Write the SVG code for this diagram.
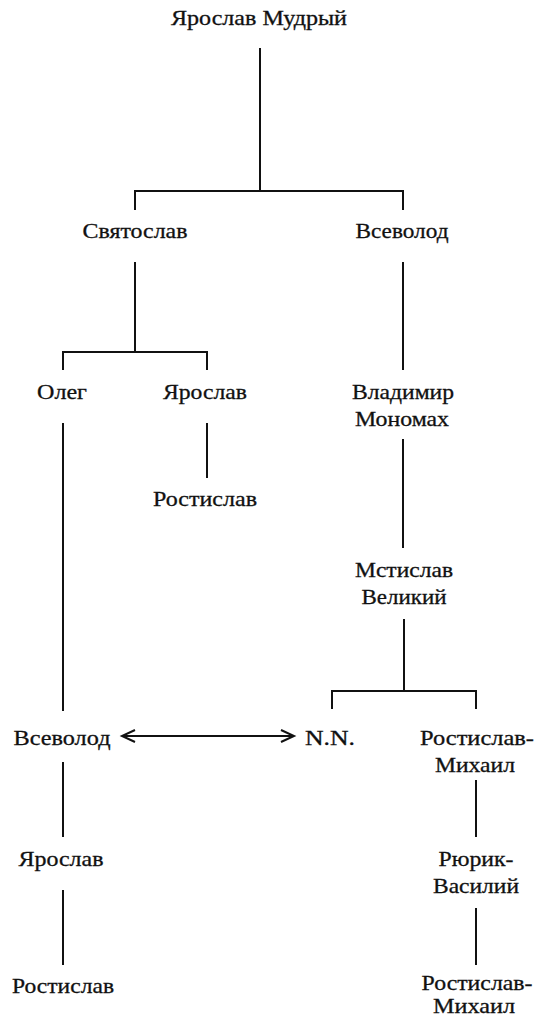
<svg xmlns="http://www.w3.org/2000/svg" width="535" height="1019" viewBox="0 0 535 1019">
<style>
text{font-family:"Liberation Serif","DejaVu Serif","Times New Roman",serif;font-size:21px;fill:#111;text-anchor:middle;stroke:#111;stroke-width:0.3}
.c line,.c path{stroke:#111;stroke-width:2;fill:none}
</style>
<defs>
<marker id="ah" markerUnits="userSpaceOnUse" markerWidth="20" markerHeight="20" refX="14" refY="7" orient="auto-start-reverse" viewBox="0 0 20 14">
<path d="M1,1 L14,7 L1,13" fill="none" stroke="#111" stroke-width="2"/>
</marker>
</defs>
<rect width="535" height="1019" fill="#fff"/>
<g class="c" id="connectors">
<line x1="260" y1="48" x2="260" y2="191"/>
<path d="M135,210 V191 H403 V210"/>
<line x1="135" y1="262" x2="135" y2="352"/>
<path d="M63,370 V352 H207 V370"/>
<line x1="63" y1="423" x2="63" y2="711"/>
<line x1="207" y1="423" x2="207" y2="478"/>
<line x1="403" y1="262" x2="403" y2="370"/>
<line x1="403" y1="439" x2="403" y2="548"/>
<line x1="404" y1="619" x2="404" y2="691"/>
<path d="M332,709 V691 H476 V709"/>
<line x1="63" y1="762" x2="63" y2="837"/>
<line x1="63" y1="890" x2="63" y2="965"/>
<line x1="476" y1="780" x2="476" y2="837"/>
<line x1="476" y1="908" x2="476" y2="965"/>
<line x1="122" y1="736" x2="294" y2="736" marker-start="url(#ah)" marker-end="url(#ah)"/>
</g>
<g id="n_yaroslav_mudry"><text x="259" y="25" textLength="176" lengthAdjust="spacingAndGlyphs">Ярослав Мудрый</text></g>
<g id="n_svyatoslav"><text x="135" y="238" textLength="105" lengthAdjust="spacingAndGlyphs">Святослав</text></g>
<g id="n_vsevolod1"><text x="402" y="238" textLength="93" lengthAdjust="spacingAndGlyphs">Всеволод</text></g>
<g id="n_oleg"><text x="62" y="399" textLength="50" lengthAdjust="spacingAndGlyphs">Олег</text></g>
<g id="n_yaroslav1"><text x="205" y="399" textLength="84" lengthAdjust="spacingAndGlyphs">Ярослав</text></g>
<g id="n_vladimir"><text x="403" y="399" textLength="102" lengthAdjust="spacingAndGlyphs">Владимир</text><text x="402" y="426" textLength="94" lengthAdjust="spacingAndGlyphs">Мономах</text></g>
<g id="n_rostislav1"><text x="205" y="506" textLength="104" lengthAdjust="spacingAndGlyphs">Ростислав</text></g>
<g id="n_mstislav"><text x="404" y="577" textLength="98" lengthAdjust="spacingAndGlyphs">Мстислав</text><text x="404" y="604" textLength="85" lengthAdjust="spacingAndGlyphs">Великий</text></g>
<g id="n_vsevolod2"><text x="62" y="745" textLength="97" lengthAdjust="spacingAndGlyphs">Всеволод</text></g>
<g id="n_nn"><text x="330" y="745" textLength="50" lengthAdjust="spacingAndGlyphs">N.N.</text></g>
<g id="n_rostislav_mikhail1"><text x="477" y="745" textLength="114" lengthAdjust="spacingAndGlyphs">Ростислав-</text><text x="475" y="772" textLength="80" lengthAdjust="spacingAndGlyphs">Михаил</text></g>
<g id="n_yaroslav2"><text x="61" y="866" textLength="85" lengthAdjust="spacingAndGlyphs">Ярослав</text></g>
<g id="n_ryurik"><text x="476" y="866" textLength="75" lengthAdjust="spacingAndGlyphs">Рюрик-</text><text x="476" y="893" textLength="86" lengthAdjust="spacingAndGlyphs">Василий</text></g>
<g id="n_rostislav2"><text x="63" y="993" textLength="102" lengthAdjust="spacingAndGlyphs">Ростислав</text></g>
<g id="n_rostislav_mikhail2"><text x="477" y="990" textLength="111" lengthAdjust="spacingAndGlyphs">Ростислав-</text><text x="474" y="1013" textLength="82" lengthAdjust="spacingAndGlyphs">Михаил</text></g>
</svg>
